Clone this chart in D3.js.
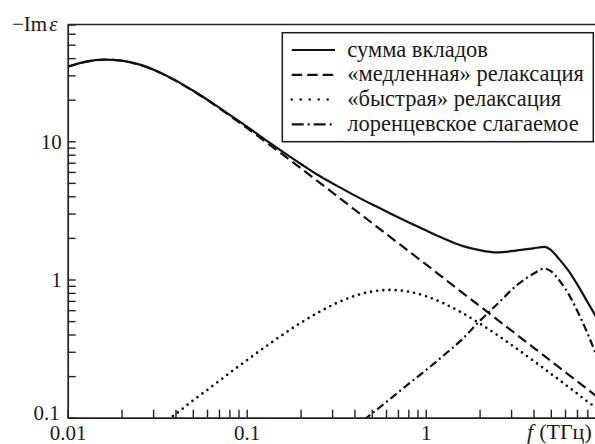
<!DOCTYPE html>
<html>
<head>
<meta charset="utf-8">
<script src="https://cdn.jsdelivr.net/npm/d3@7"></script>
<style>
  body { margin: 0; background: #fff; }
  text { font-family: "Liberation Serif", "Times New Roman", Times, "DejaVu Serif", serif; fill: #1a1a1a; }
</style>
</head>
<body>
<svg id="chart"></svg>
<script>
const width = 595,
    height = 444;
const serifFont = "'Liberation Serif', 'Times New Roman', Times, 'DejaVu Serif', serif";

// frequency grid, THz
const freq = [0.01, 0.0125, 0.016, 0.02, 0.025, 0.032, 0.04, 0.05, 0.063, 0.08,
    0.1, 0.125, 0.16, 0.2, 0.25, 0.32, 0.4, 0.5, 0.63, 0.8,
    1, 1.25, 1.6, 2, 2.5, 3.2, 4, 4.6, 5, 5.5, 6.3, 7, 8, 9, 10];

// -Im eps
const total = [34.6, 37.6, 39.0, 38.3, 36.0, 31.9, 27.6, 23.3, 19.3, 15.6,
    12.8, 10.4, 8.36, 6.88, 5.70, 4.76, 4.06, 3.50, 3.02, 2.60,
    2.27, 1.99, 1.75, 1.63, 1.57, 1.62, 1.68, 1.72, 1.64, 1.43, 1.15, 0.93, 0.69, 0.53, 0.41];
const slow = [34.6, 37.6, 39.0, 38.3, 35.9, 31.8, 27.5, 23.2, 19.1, 15.4,
    12.5, 10.1, 7.96, 6.39, 5.12, 4.01, 3.21, 2.57, 2.04, 1.61,
    1.29, 1.03, 0.804, 0.644, 0.515, 0.402, 0.322, 0.28, 0.257, 0.234, 0.204, 0.184, 0.161, 0.143, 0.129];
const fast = [null, null, null, null, null, 0.085, 0.106, 0.133, 0.166, 0.210,
    0.260, 0.321, 0.401, 0.485, 0.576, 0.678, 0.760, 0.818, 0.840, 0.817,
    0.758, 0.675, 0.573, 0.481, 0.398, 0.318, 0.258, 0.226, 0.208, 0.190, 0.166, 0.150, 0.131, 0.117, 0.105];
const lorentz = [null, null, null, null, null, null, null, null, null, null,
    null, null, null, null, null, 0.068, 0.085, 0.107, 0.136, 0.175,
    0.22, 0.28, 0.37, 0.50, 0.66, 0.90, 1.10, 1.20, 1.15, 1.01, 0.78, 0.60, 0.41, 0.28, 0.19];

const xTickLabels = [0.01, 0.1, 1];
const yTickLabels = [0.1, 1, 10];

const series = [
    { name: "«медленная» релаксация", values: slow, dash: "10,5", cap: "butt", legendDash: "10.5,5" },
    { name: "«быстрая» релаксация", values: fast, dash: "0,6.2", cap: "round", legendDash: "0,9" },
    { name: "лоренцевское слагаемое", values: lorentz, dash: "8,3.5,2,3.5", cap: "butt", legendDash: "12,4,2,4" },
    { name: "сумма вкладов", values: total, dash: null, cap: "butt", legendDash: null }
];
const legendOrder = [3, 0, 1, 2];

const plotLeft = 67.7, plotBottom = 417.7, plotTop = 24.5;

const x = d3.scaleLog()
    .domain([0.01, 10])
    .range([plotLeft, plotLeft + 3 * 179]);

const y = d3.scaleLog()
    .domain([0.1, 70])
    .range([plotBottom, plotTop]);

const svg = d3.select("#chart")
    .attr("width", width)
    .attr("height", height);

svg.append("clipPath")
    .attr("id", "plot-clip")
    .append("rect")
    .attr("x", plotLeft)
    .attr("y", plotTop)
    .attr("width", x(10) - plotLeft)
    .attr("height", plotBottom - plotTop);

// curves
const line = d3.line()
    .defined(d => d[1] != null)
    .x(d => x(d[0]))
    .y(d => y(d[1]))
    .curve(d3.curveMonotoneX);

const curves = svg.append("g").attr("clip-path", "url(#plot-clip)");
series.forEach(s => {
    curves.append("path")
        .attr("d", line(freq.map((f, i) => [f, s.values[i]])))
        .attr("fill", "none")
        .attr("stroke", "#111")
        .attr("stroke-width", s.cap === "round" ? 2.7 : 2.2)
        .attr("stroke-linecap", s.cap)
        .attr("stroke-dasharray", s.dash);
});

// axes, ticks inside
const xAxis = d3.axisBottom(x)
    .ticks(10)
    .tickSizeInner(-8)
    .tickSizeOuter(0)
    .tickPadding(7)
    .tickFormat(d => xTickLabels.includes(d) ? d3.format("")(d) : "");

const yAxis = d3.axisLeft(y)
    .ticks(10)
    .tickSizeInner(-8)
    .tickSizeOuter(0)
    .tickPadding(6)
    .tickFormat(d => yTickLabels.includes(d) ? d3.format("")(d) : "");

const gx = svg.append("g")
    .attr("transform", `translate(0,${plotBottom})`)
    .call(xAxis);
const gy = svg.append("g")
    .attr("transform", `translate(${plotLeft},0)`)
    .call(yAxis);

[gx, gy].forEach(g => {
    g.attr("font-family", null).attr("font-size", null);
    g.selectAll("path.domain").attr("stroke", "#222").attr("stroke-width", 1.7);
    g.selectAll(".tick line").attr("stroke", "#222").attr("stroke-width", 1.4);
    g.selectAll(".tick text")
        .style("font-family", serifFont)
        .style("font-size", "21px")
        .attr("fill", "#1a1a1a");
});
gy.selectAll(".tick text").filter(d => d === 0.1).attr("dy", "0.1em").attr("dx", -2);

// top frame line
svg.append("line")
    .attr("x1", plotLeft).attr("x2", x(10))
    .attr("y1", plotTop).attr("y2", plotTop)
    .attr("stroke", "#222")
    .attr("stroke-width", 1.7);

// axis titles
const yTitle = svg.append("text")
    .attr("x", 12)
    .attr("y", 31)
    .style("font-size", "21px");
yTitle.append("tspan").text("−Im");
yTitle.append("tspan").attr("dx", 2).style("font-style", "italic").text("ε");

const xTitle = svg.append("text")
    .attr("x", 527)
    .attr("y", 439)
    .style("font-size", "22px");
xTitle.append("tspan").style("font-style", "italic").text("f");
xTitle.append("tspan").attr("dx", 6).text("(ТГц)");

// legend
const legend = svg.append("g");
legend.append("rect")
    .attr("x", 282.3)
    .attr("y", 32.7)
    .attr("width", 311)
    .attr("height", 109)
    .attr("fill", "#fff")
    .attr("stroke", "#1a1a1a")
    .attr("stroke-width", 1.5);

legendOrder.forEach((k, i) => {
    const s = series[k];
    const cy = 50 + i * 24.8;
    legend.append("line")
        .attr("x1", 291.7).attr("x2", 335)
        .attr("y1", cy).attr("y2", cy)
        .attr("stroke", "#111")
        .attr("stroke-width", s.cap === "round" ? 2.5 : 2.2)
        .attr("stroke-linecap", s.cap)
        .attr("stroke-dasharray", s.legendDash);
    legend.append("text")
        .attr("x", 347.3)
        .attr("y", cy + 6.5)
        .style("font-size", "22.5px")
        .text(s.name);
});
</script>
</body>
</html>
